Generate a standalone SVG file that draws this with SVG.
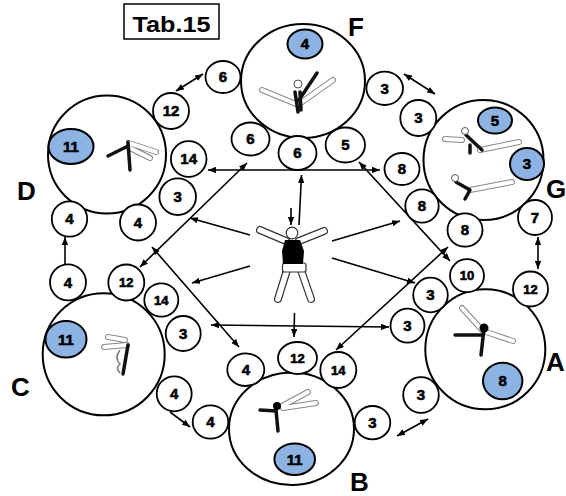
<svg xmlns="http://www.w3.org/2000/svg" width="566" height="496" viewBox="0 0 566 496">
<defs>
<marker id="ah" viewBox="0 0 10 8" refX="10" refY="4" markerWidth="8" markerHeight="6.4" markerUnits="userSpaceOnUse" orient="auto-start-reverse">
<path d="M0,0 L10,4 L0,8 z" fill="#000"/>
</marker>
</defs>
<style>
.big{fill:#fff;stroke:#000;stroke-width:2}
.sm{fill:#fff;stroke:#000;stroke-width:1.8}
.blue{fill:#8DB3E2;stroke:#000;stroke-width:2}
.num{font-family:"Liberation Sans",Arial,sans-serif;font-weight:bold;font-size:15px;text-anchor:middle;fill:#000;stroke:#000;stroke-width:0.6}
.n13{font-size:13px}
.lbl{font-family:"Liberation Sans",Arial,sans-serif;font-weight:bold;font-size:26px;fill:#000}
.c1{stroke:#000;stroke-width:1.6;fill:none;marker-end:url(#ah)}
.c2{stroke:#000;stroke-width:1.6;fill:none;marker-end:url(#ah);marker-start:url(#ah)}
.ol{fill:none;stroke:#888;stroke-width:6;stroke-linecap:round;stroke-linejoin:round}
.oi{fill:none;stroke:#fff;stroke-width:4;stroke-linecap:round;stroke-linejoin:round}
.bk{fill:none;stroke:#111;stroke-width:3.5;stroke-linecap:round;stroke-linejoin:round}
.lo{fill:none;stroke:#333;stroke-width:8;stroke-linecap:round;stroke-linejoin:round}
.li{fill:none;stroke:#fff;stroke-width:5.6;stroke-linecap:round;stroke-linejoin:round}
</style>
<rect width="566" height="496" fill="#fff"/>

<g id="title">
<rect x="124" y="4" width="95" height="35" fill="#fff" stroke="#000" stroke-width="1.5"/>
<text x="171.5" y="32" class="lbl" style="font-size:22px" text-anchor="middle" textLength="78" lengthAdjust="spacingAndGlyphs">Tab.15</text>
</g>

<g id="connectors">
<line class="c2" x1="176" y1="91" x2="203" y2="74"/>
<line class="c1" x1="65" y1="264" x2="65" y2="237"/>
<line class="c2" x1="140" y1="267" x2="247" y2="163"/>
<line class="c2" x1="208" y1="170" x2="380" y2="170"/>
<line class="c1" x1="250" y1="235" x2="190" y2="218"/>
<line class="c1" x1="250" y1="266" x2="192" y2="283"/>
<line class="c1" x1="291" y1="208" x2="291" y2="225"/>
<line class="c1" x1="299" y1="225" x2="301.5" y2="175"/>
<line class="c1" x1="332" y1="241" x2="400" y2="221"/>
<line class="c1" x1="332" y1="258" x2="415" y2="283"/>
<line class="c2" x1="359" y1="162" x2="450" y2="261"/>
<line class="c2" x1="448" y1="247" x2="336" y2="350"/>
<line class="c2" x1="152" y1="247" x2="239" y2="347"/>
<line class="c2" x1="211" y1="325" x2="389" y2="327"/>
<line class="c1" x1="294.5" y1="313" x2="294" y2="337"/>
<line class="c2" x1="538" y1="237" x2="538" y2="269"/>
<line class="c2" x1="404" y1="74" x2="435" y2="94"/>
<line class="c1" x1="170" y1="412" x2="190" y2="427"/>
<line class="c2" x1="397" y1="436" x2="428" y2="419"/>
</g>

<g id="center-figure">
<path class="lo" d="M286,241 L260,230 M299,241 L324,231"/>
<path class="li" d="M286,241 L260,230 M299,241 L324,231"/>
<path class="lo" d="M287,270 L278,299 M301,270 L311,299"/>
<path class="li" d="M287,270 L278,299 M301,270 L311,299"/>
<rect x="282.5" y="263" width="23.5" height="9" rx="2" fill="#fff" stroke="#333" stroke-width="1.2"/>
<path d="M285,240 L300,240 L304,251 L303,264 L283,264 L282,251 Z" fill="#000"/>
<circle cx="292" cy="233" r="5.8" fill="#fff" stroke="#333" stroke-width="1.2"/>
</g>

<g id="node-F">
<ellipse class="big" cx="303" cy="81" rx="62" ry="57"/>
<path class="ol" d="M296,104 L262,90 M302,102 L333,80"/>
<path class="oi" d="M296,104 L262,90 M302,102 L333,80"/>
<path class="bk" d="M295,92 L298,112 M300,92 L301,110 M299,100 L317,73"/>
<circle cx="298" cy="84" r="4" fill="#fff" stroke="#555" stroke-width="1"/>
<ellipse class="blue" cx="305" cy="44" rx="17.5" ry="14.5"/>
<text class="num" x="305" y="49.3">4</text>
<text class="lbl" x="348" y="36">F</text>
</g>

<g id="node-D">
<circle class="big" cx="107" cy="154.5" r="59"/>
<path class="ol" d="M129,143 L156,152 M128,147 L150,158"/>
<path class="oi" d="M129,143 L156,152 M128,147 L150,158"/>
<path class="bk" d="M128,142 L130,170 M128,146 L108,156"/>
<ellipse class="blue" cx="71" cy="146.5" rx="22.5" ry="17.5"/>
<text class="num" x="71" y="151.8">11</text>
<text class="lbl" x="17" y="200">D</text>
</g>

<g id="node-G">
<circle class="big" cx="483.5" cy="160" r="60"/>
<path class="ol" d="M462,140 L445,139 M480,150 L519,142"/>
<path class="oi" d="M462,140 L445,139 M480,150 L519,142"/>
<path class="bk" d="M466,135 L482,150 M470,145 L470,153"/>
<circle cx="465" cy="131" r="3.5" fill="#fff" stroke="#555" stroke-width="1"/>
<path class="ol" d="M470,190 L512,182"/>
<path class="oi" d="M470,190 L512,182"/>
<path class="bk" d="M456,182 L470,190 L465,199"/>
<circle cx="455" cy="178" r="3.5" fill="#fff" stroke="#555" stroke-width="1"/>
<ellipse class="blue" cx="495" cy="120.5" rx="17" ry="13"/>
<text class="num" x="495" y="125.8">5</text>
<ellipse class="blue" cx="527" cy="164" rx="17" ry="16"/>
<text class="num" x="527" y="169.3">3</text>
<text class="lbl" x="546" y="198">G</text>
</g>

<g id="node-C">
<circle class="big" cx="103.7" cy="354.3" r="61"/>
<path class="ol" d="M127,345 L104,347 M125,340 L108,337"/>
<path class="oi" d="M127,345 L104,347 M125,340 L108,337"/>
<path class="bk" d="M128,345 L123,374"/>
<path d="M120,350 q-6,8 0,14 q-5,4 0,9" fill="none" stroke="#777" stroke-width="1.5"/>
<ellipse class="blue" cx="66" cy="339.3" rx="20.5" ry="18.3"/>
<text class="num" x="66" y="344.6">11</text>
<text class="lbl" x="11" y="396">C</text>
</g>

<g id="node-A">
<circle class="big" cx="485.3" cy="349.3" r="60"/>
<path class="ol" d="M482,330 L462,308 M486,332 L513,341"/>
<path class="oi" d="M482,330 L462,308 M486,332 L513,341"/>
<path class="bk" d="M484,329 L481,355 M482,335 L455,335"/>
<circle cx="484" cy="328" r="4.5" fill="#000"/>
<ellipse class="blue" cx="502.7" cy="381" rx="19.7" ry="18.3"/>
<text class="num" x="502.7" y="386.3">8</text>
<text class="lbl" x="546" y="371">A</text>
</g>

<g id="node-B">
<ellipse class="big" cx="291.5" cy="428.7" rx="62.5" ry="56.3"/>
<path class="ol" d="M282,406 L308,392 M283,408 L316,403"/>
<path class="oi" d="M282,406 L308,392 M283,408 L316,403"/>
<path class="bk" d="M276,410 L278,431 M276,411 L260,410"/>
<circle cx="277" cy="406" r="4" fill="#000"/>
<ellipse class="blue" cx="294.7" cy="459.2" rx="20.3" ry="15.8"/>
<text class="num" x="294.7" y="464.5">11</text>
<text class="lbl" x="350" y="491">B</text>
</g>

<g id="s-6a"><ellipse class="sm" cx="223" cy="77" rx="17.5" ry="16"/><text class="num" x="223" y="82.3">6</text></g>
<g id="s-12a"><circle class="sm" cx="171" cy="111" r="18"/><text class="num" x="171" y="116.3">12</text></g>
<g id="s-6b"><ellipse class="sm" cx="250.5" cy="139" rx="19" ry="16.5"/><text class="num" x="250.5" y="144.3">6</text></g>
<g id="s-14a"><circle class="sm" cx="188.7" cy="159" r="17.8"/><text class="num" x="188.7" y="164.3">14</text></g>
<g id="s-3a"><circle class="sm" cx="177.7" cy="196.7" r="18.3"/><text class="num" x="177.7" y="202">3</text></g>
<g id="s-4a"><circle class="sm" cx="138" cy="222.5" r="18"/><text class="num" x="138" y="227.8">4</text></g>
<g id="s-4b"><circle class="sm" cx="69.5" cy="219" r="17.7"/><text class="num" x="69.5" y="224.3">4</text></g>
<g id="s-6c"><ellipse class="sm" cx="297.5" cy="153" rx="19" ry="17"/><text class="num" x="297.5" y="158.3">6</text></g>
<g id="s-5"><ellipse class="sm" cx="345.3" cy="145" rx="19.7" ry="17.5"/><text class="num" x="345.3" y="150.3">5</text></g>
<g id="s-8a"><ellipse class="sm" cx="402" cy="169" rx="17.5" ry="16"/><text class="num" x="402" y="174.3">8</text></g>
<g id="s-8b"><circle class="sm" cx="422" cy="206" r="16.7"/><text class="num" x="422" y="211.3">8</text></g>
<g id="s-8c"><ellipse class="sm" cx="465" cy="230" rx="17.5" ry="16.7"/><text class="num" x="465" y="235.3">8</text></g>
<g id="s-3b"><ellipse class="sm" cx="384.7" cy="88.3" rx="18.3" ry="16.7"/><text class="num" x="384.7" y="93.6">3</text></g>
<g id="s-3c"><circle class="sm" cx="418.3" cy="118" r="18"/><text class="num" x="418.3" y="123.3">3</text></g>
<g id="s-7"><ellipse class="sm" cx="535" cy="217.5" rx="17" ry="17.5"/><text class="num" x="535" y="222.8">7</text></g>
<g id="s-10"><ellipse class="sm" cx="467" cy="275.7" rx="17" ry="16.5"/><text class="num n13" x="467" y="280.4">10</text></g>
<g id="s-12b"><circle class="sm" cx="530.5" cy="289" r="17.5"/><text class="num n13" x="530.5" y="293.7">12</text></g>
<g id="s-3d"><circle class="sm" cx="430.5" cy="295" r="17.3"/><text class="num" x="430.5" y="300.3">3</text></g>
<g id="s-3e"><circle class="sm" cx="407.5" cy="325.7" r="17"/><text class="num" x="407.5" y="331">3</text></g>
<g id="s-12c"><ellipse class="sm" cx="297.5" cy="358" rx="19.5" ry="16"/><text class="num n13" x="297.5" y="362.7">12</text></g>
<g id="s-14b"><circle class="sm" cx="338.3" cy="370" r="18"/><text class="num n13" x="338.3" y="374.7">14</text></g>
<g id="s-3f"><ellipse class="sm" cx="372.5" cy="422.7" rx="17.8" ry="16.7"/><text class="num" x="372.5" y="428">3</text></g>
<g id="s-3g"><circle class="sm" cx="421" cy="395" r="17.8"/><text class="num" x="421" y="400.3">3</text></g>
<g id="s-4c"><circle class="sm" cx="68" cy="282.3" r="18"/><text class="num" x="68" y="287.6">4</text></g>
<g id="s-12d"><circle class="sm" cx="126.3" cy="282.5" r="18"/><text class="num n13" x="126.3" y="287.2">12</text></g>
<g id="s-14c"><ellipse class="sm" cx="161.3" cy="300" rx="17" ry="16.7"/><text class="num n13" x="161.3" y="304.7">14</text></g>
<g id="s-3h"><circle class="sm" cx="183.2" cy="333.5" r="17.5"/><text class="num" x="183.2" y="338.8">3</text></g>
<g id="s-4d"><ellipse class="sm" cx="245.8" cy="369.7" rx="18.5" ry="16.3"/><text class="num" x="245.8" y="375">4</text></g>
<g id="s-4e"><circle class="sm" cx="174.2" cy="393.8" r="17.5"/><text class="num" x="174.2" y="399.1">4</text></g>
<g id="s-4f"><ellipse class="sm" cx="210.5" cy="422" rx="17.8" ry="16.7"/><text class="num" x="210.5" y="427.3">4</text></g>
</svg>
